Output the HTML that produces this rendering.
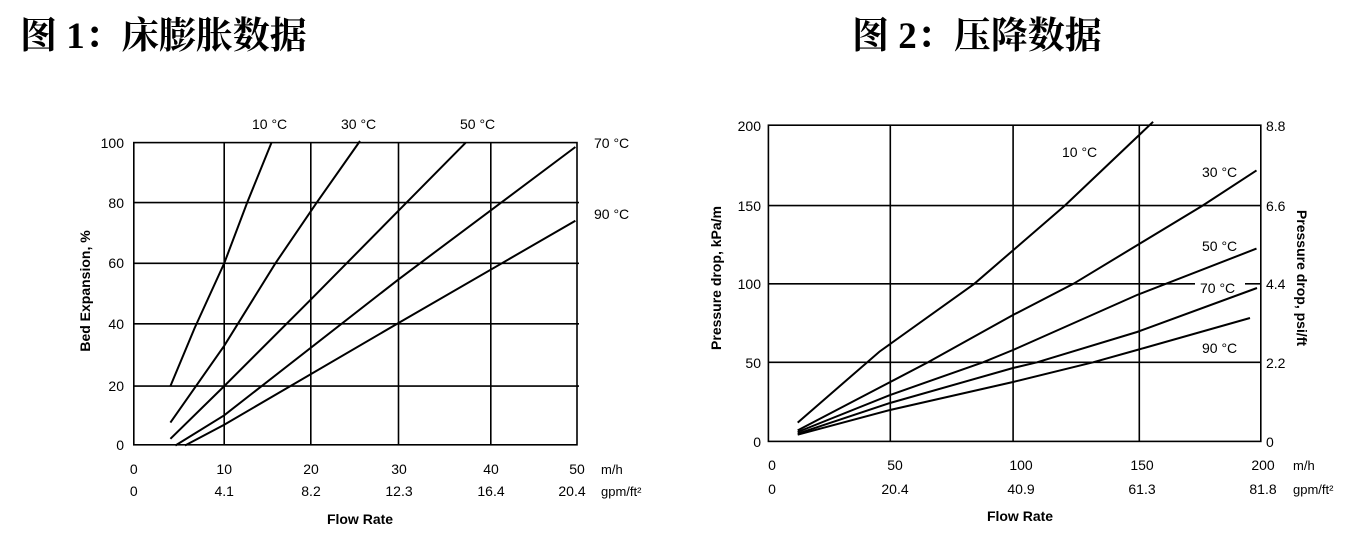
<!DOCTYPE html>
<html><head><meta charset="utf-8"><style>
html,body{margin:0;padding:0;background:#fff;}
svg{display:block;}
.t{font-family:"Liberation Sans","Noto Sans CJK SC",sans-serif;font-size:14px;fill:#000;}
.b{font-weight:bold;}
.ti{font-family:"Liberation Serif","Noto Serif CJK SC","Noto Sans CJK SC",serif;font-size:37px;font-weight:bold;fill:#000;}
</style></head><body>
<svg width="1362" height="536" viewBox="0 0 1362 536" xmlns="http://www.w3.org/2000/svg">
<text class="ti" x="20" y="48">图 1：床膨胀数据</text>
<text class="ti" x="852" y="48">图 2：压降数据</text>

<!-- Chart 1 -->
<g stroke="#000" stroke-width="1.6" fill="none">
<rect x="133.8" y="142.6" width="443.2" height="302.2"/>
<line x1="224.2" y1="142.6" x2="224.2" y2="444.8"/>
<line x1="310.8" y1="142.6" x2="310.8" y2="444.8"/>
<line x1="398.5" y1="142.6" x2="398.5" y2="444.8"/>
<line x1="490.8" y1="142.6" x2="490.8" y2="444.8"/>
<line x1="133.8" y1="202.6" x2="579" y2="202.6"/>
<line x1="133.8" y1="263.3" x2="579" y2="263.3"/>
<line x1="133.8" y1="323.8" x2="579" y2="323.8"/>
<line x1="133.8" y1="386.1" x2="579" y2="386.1"/>
<g stroke-width="2">
<polyline points="170.4,386.1 194.6,328.1 224.2,263.3 247.3,202.3 271.5,142.6"/>
<polyline points="170.4,422.6 224.2,345.8 275.4,263.3 316.9,202.3 360,141"/>
<polyline points="170.4,438.8 224.2,386.1 310.8,299.6 398.5,210.7 465.8,142.6"/>
<polyline points="175.4,445.5 224.2,415.3 398.5,279.4 575.4,147"/>
<polyline points="185,445.5 224.2,424.7 398.5,323 575.4,220.7"/>
</g>
</g>
<g class="t">
<text x="252" y="129">10 °C</text>
<text x="341" y="129">30 °C</text>
<text x="460" y="129">50 °C</text>
<text x="594" y="148">70 °C</text>
<text x="594" y="219">90 °C</text>
<g text-anchor="end">
<text x="124" y="148">100</text>
<text x="124" y="208">80</text>
<text x="124" y="268">60</text>
<text x="124" y="329">40</text>
<text x="124" y="391">20</text>
<text x="124" y="450">0</text>
</g>
<g text-anchor="middle">
<text x="133.8" y="474">0</text><text x="224.2" y="474">10</text><text x="311" y="474">20</text><text x="399" y="474">30</text><text x="491" y="474">40</text><text x="577" y="474">50</text>
<text x="133.8" y="496">0</text><text x="224.2" y="496">4.1</text><text x="311" y="496">8.2</text><text x="399" y="496">12.3</text><text x="491" y="496">16.4</text><text x="572" y="496">20.4</text>
<text class="b" x="360" y="524">Flow Rate</text>
</g>
<text x="601" y="474" font-size="13">m/h</text>
<text x="601" y="496" font-size="13">gpm/ft²</text>
<text class="b" x="0" y="0" text-anchor="middle" transform="translate(90,291) rotate(-90)">Bed Expansion, %</text>
</g>

<!-- Chart 2 -->
<g stroke="#000" stroke-width="1.6" fill="none">
<rect x="768.4" y="125.2" width="492.4" height="316.2"/>
<line x1="890.3" y1="125.2" x2="890.3" y2="441.4"/>
<line x1="1013.1" y1="125.2" x2="1013.1" y2="441.4"/>
<line x1="1139.3" y1="125.2" x2="1139.3" y2="441.4"/>
<line x1="768.4" y1="205.6" x2="1260.8" y2="205.6"/>
<line x1="768.4" y1="283.8" x2="1195" y2="283.8"/>
<line x1="1245" y1="283.8" x2="1260.8" y2="283.8"/>
<line x1="768.4" y1="362.3" x2="1260.8" y2="362.3"/>
<g stroke-width="2">
<polyline points="797.7,422.6 879.5,351.6 974.3,283.8 1064.8,205.6 1153.1,121.8"/>
<polyline points="797.7,430.4 928,362.3 1013,315 1073.4,283.8 1202.6,205.6 1256.5,170.4"/>
<polyline points="797.7,432 890,395 983,362.3 1013,350 1137,295 1256.5,248.6"/>
<polyline points="797.7,433.7 890,403 1013,368 1037,362.3 1137,332 1257,288"/>
<polyline points="797.7,434.7 890,410 1013,382 1093,362.3 1137,350 1250,318"/>
</g>
</g>
<g class="t">
<text x="1062" y="157">10 °C</text>
<text x="1202" y="177">30 °C</text>
<text x="1202" y="251">50 °C</text>
<text x="1200" y="293">70 °C</text>
<text x="1202" y="353">90 °C</text>
<g text-anchor="end">
<text x="761" y="131">200</text>
<text x="761" y="211">150</text>
<text x="761" y="289">100</text>
<text x="761" y="368">50</text>
<text x="761" y="447">0</text>
</g>
<text x="1266" y="131">8.8</text>
<text x="1266" y="211">6.6</text>
<text x="1266" y="289">4.4</text>
<text x="1266" y="368">2.2</text>
<text x="1266" y="447">0</text>
<g text-anchor="middle">
<text x="772" y="470">0</text><text x="895" y="470">50</text><text x="1021" y="470">100</text><text x="1142" y="470">150</text><text x="1263" y="470">200</text>
<text x="772" y="494">0</text><text x="895" y="494">20.4</text><text x="1021" y="494">40.9</text><text x="1142" y="494">61.3</text><text x="1263" y="494">81.8</text>
<text class="b" x="1020" y="521">Flow Rate</text>
</g>
<text x="1293" y="470" font-size="13">m/h</text>
<text x="1293" y="494" font-size="13">gpm/ft²</text>
<text class="b" text-anchor="middle" transform="translate(721,278) rotate(-90)">Pressure drop, kPa/m</text>
<text class="b" text-anchor="middle" transform="translate(1297,278) rotate(90)">Pressure drop, psi/ft</text>
</g>
</svg>
</body></html>
